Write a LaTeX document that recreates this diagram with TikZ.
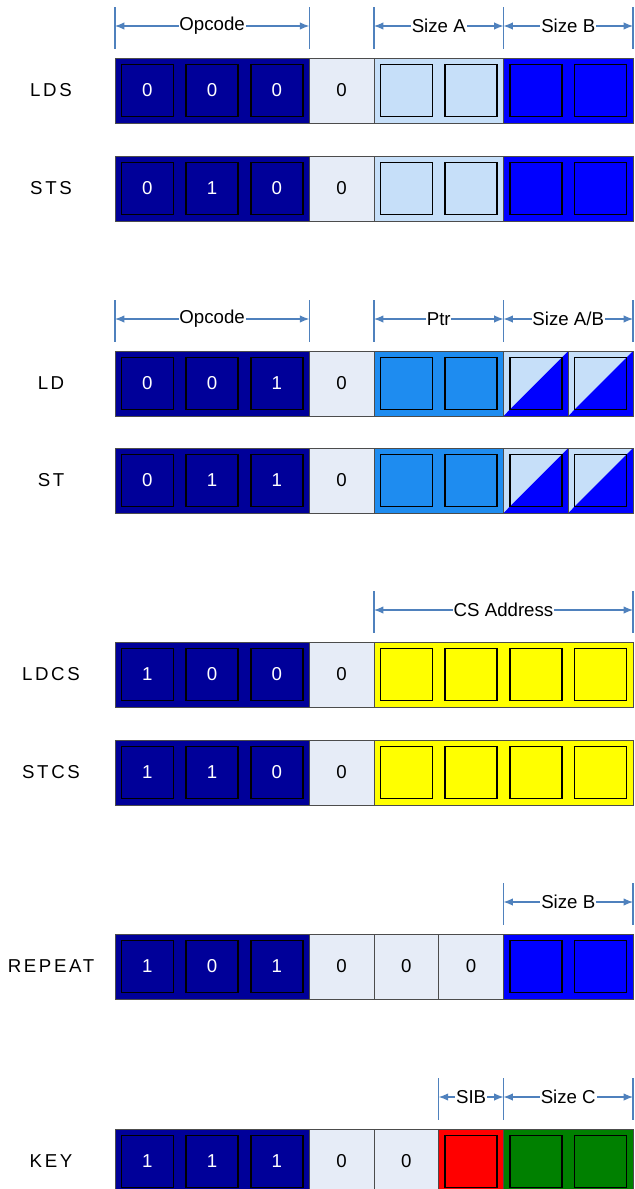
\documentclass[tikz,border=0pt]{standalone}
\usepackage{fontspec}
\setmainfont{Liberation Sans}
\newfontfamily\rowfont[LetterSpace=14]{Liberation Sans}
\usetikzlibrary{arrows.meta, calc}
\definecolor{opc}{HTML}{000099}
\definecolor{flag}{HTML}{E6ECF7}
\definecolor{sza}{HTML}{C6DFF9}
\definecolor{szb}{HTML}{0000FF}
\definecolor{ptr}{HTML}{1E8CF0}
\definecolor{csa}{HTML}{FFFF00}
\definecolor{sib}{HTML}{FF0000}
\definecolor{szc}{HTML}{008000}
\definecolor{dimblue}{HTML}{4F81BD}
\def\cw{64.75}
\def\xo{115}

\begin{document}
\begin{tikzpicture}[x=0.75pt, y=-0.75pt,
    every node/.style={font=\fontsize{14}{17}\selectfont},
    cellbox/.style={minimum width=48.56pt, minimum height=48.75pt, inner sep=0pt, outer sep=0pt},
    bitbox/.style={draw=black, line width=1pt, minimum size=39pt, inner sep=0pt, text=white},
    seg/.style={draw=black!70, line width=0.75pt},
    rowlab/.style={font=\rowfont\fontsize{14}{17}\selectfont},
    tick/.style={draw=dimblue, line width=0.8pt},
    dim/.style={{Latex[length=7pt, width=5.5pt]}-{Latex[length=7pt, width=5.5pt]}, draw=dimblue, line width=0.8pt},
    dimlab/.style={fill=white, inner sep=0.6pt},
]
\useasboundingbox (0,0) rectangle (635,1189);

% ---------------------------------------------------------- the eight rows
\foreach \rn/\ry/\cells/\segs/\lab in {
    lds/58/{opc/0/1,opc/0/1,opc/0/1,flag/0/0,sza//1,sza//1,szb//1,szb//1}/{0/2,3/3,4/5,6/7}/LDS,
    sts/156/{opc/0/1,opc/1/1,opc/0/1,flag/0/0,sza//1,sza//1,szb//1,szb//1}/{0/2,3/3,4/5,6/7}/STS,
    ld/351/{opc/0/1,opc/0/1,opc/1/1,flag/0/0,ptr//1,ptr//1,sza//2,sza//2}/{0/2,3/3,4/5,6/6,7/7}/LD,
    st/448/{opc/0/1,opc/1/1,opc/1/1,flag/0/0,ptr//1,ptr//1,sza//2,sza//2}/{0/2,3/3,4/5,6/6,7/7}/ST,
    ldcs/642/{opc/1/1,opc/0/1,opc/0/1,flag/0/0,csa//1,csa//1,csa//1,csa//1}/{0/2,3/3,4/7}/LDCS,
    stcs/740/{opc/1/1,opc/1/1,opc/0/1,flag/0/0,csa//1,csa//1,csa//1,csa//1}/{0/2,3/3,4/7}/STCS,
    rep/934/{opc/1/1,opc/0/1,opc/1/1,flag/0/0,flag/0/0,flag/0/0,szb//1,szb//1}/{0/2,3/3,4/4,5/5,6/7}/REPEAT,
    key/1129/{opc/1/1,opc/1/1,opc/1/1,flag/0/0,flag/0/0,sib//1,szc//1,szc//1}/{0/2,3/3,4/4,5/5,6/7}/KEY%
  }{
  \node[rowlab] (\rn-lab) at (51, \ry+32.5) {\lab};
  \foreach \col/\bit/\kind [count=\ci from 0] in \cells {
    \node[cellbox, fill=\col, draw=\col, line width=0.4pt] (\rn\ci)
        at (\xo+\ci*\cw+0.5*\cw, \ry+32.5) {};
    \ifnum\kind=0
      \node (\rn-f\ci) at (\rn\ci) {\bit};
    \else
      % split cell: A above the diagonal, B below
      \ifnum\kind=2
        \fill[szb] (\rn\ci.south west) -- (\rn\ci.south east) -- (\rn\ci.north east) -- cycle;
      \fi
      \node[bitbox] (\rn-b\ci) at (\rn\ci) {\bit};
    \fi
  }
  \foreach \a/\b in \segs {
    \draw[seg] (\rn\a.north west) rectangle (\rn\b.south east);
  }
}

% ---------------------------------------------------------- field widths
\foreach \rn/\a/\b/\txt in {lds/0/2/Opcode, lds/4/5/Size A, lds/6/7/Size B,
    ld/0/2/Opcode, ld/4/5/Ptr, ld/6/7/{Size A/B},
    ldcs/4/7/CS Address, rep/6/7/Size B, key/5/5/SIB, key/6/7/Size C} {
  \coordinate (\rn-l\a) at ($(\rn\a.north west)+(0,-32)$);
  \coordinate (\rn-r\b) at ($(\rn\b.north east)+(0,-32)$);
  \draw[tick] ($(\rn-l\a)+(0,-19)$) -- ($(\rn-l\a)+(0,23)$);
  \draw[tick] ($(\rn-r\b)+(0,-19)$) -- ($(\rn-r\b)+(0,23)$);
  \draw[dim] (\rn-l\a) -- node[dimlab] {\txt} (\rn-r\b);
}

\end{tikzpicture}
\end{document}
